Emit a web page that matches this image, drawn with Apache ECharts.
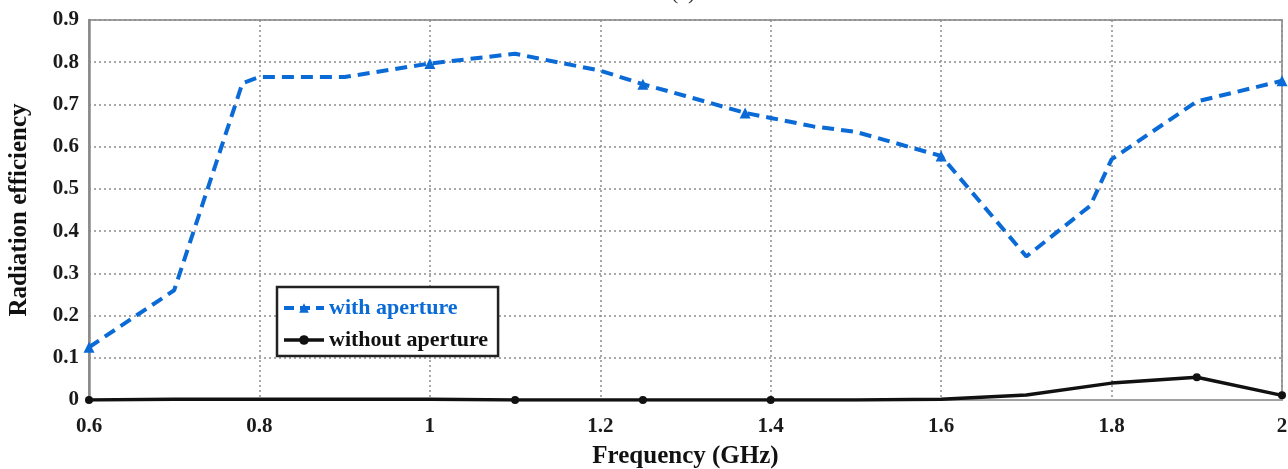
<!DOCTYPE html>
<html>
<head>
<meta charset="utf-8">
<script src="https://cdn.jsdelivr.net/npm/echarts@6/dist/echarts.min.js"></script>
<style>
  html, body { margin: 0; padding: 0; background: #fff; }
  #chart { width: 1288px; height: 469px; }
</style>
</head>
<body>
<div id="chart"></div>
<script>
// Frequency sweep (GHz) and measured radiation efficiency
const freqWith = [0.6, 0.7, 0.78, 0.8, 0.9, 1.0, 1.1, 1.2, 1.25, 1.3, 1.37, 1.4, 1.45, 1.5, 1.6, 1.7, 1.775, 1.8, 1.9, 2.0];
const effWith  = [0.125, 0.26, 0.75, 0.765, 0.765, 0.797, 0.82, 0.78, 0.748, 0.72, 0.68, 0.668, 0.648, 0.635, 0.578, 0.34, 0.46, 0.57, 0.707, 0.756];
const markWith = [0.6, 1.0, 1.25, 1.37, 1.6, 2.0];

const freqWithout = [0.6, 0.7, 0.8, 0.9, 1.0, 1.1, 1.25, 1.4, 1.5, 1.6, 1.7, 1.8, 1.9, 2.0];
const effWithout  = [0.0, 0.002, 0.002, 0.002, 0.002, 0.0, 0.0, 0.0, 0.0, 0.002, 0.012, 0.04, 0.054, 0.011];
const markWithout = [0.6, 1.1, 1.25, 1.4, 1.9, 2.0];

const yTicks = [0, 0.1, 0.2, 0.3, 0.4, 0.5, 0.6, 0.7, 0.8, 0.9];

const serif = '"Liberation Serif", "DejaVu Serif", serif';
const blue = '#0a6ad6';

function pairs(xs, ys, marked) {
  return xs.map((x, i) => marked.includes(x)
    ? { value: [x, ys[i]] }
    : { value: [x, ys[i]], symbol: 'none' });
}

const chart = echarts.init(document.getElementById('chart'), null, { renderer: 'canvas' });
chart.setOption({
  animation: false,
  backgroundColor: '#fff',
  title: {
    text: '(a)',
    left: 666,
    top: -23,
    textStyle: { fontFamily: serif, fontSize: 22, fontWeight: 'normal', color: '#333' }
  },
  grid: {
    left: 89, right: 6, top: 20, bottom: 69,
    containLabel: false,
    outerBoundsMode: 'none',
    show: true, borderColor: '#a0a0a0', borderWidth: 2, backgroundColor: '#fff'
  },
  legend: {
    left: 277, top: 287,
    orient: 'vertical',
    itemGap: 10,
    itemWidth: 40, itemHeight: 12,
    itemTextGap: 7,
    padding: [10, 10, 5, 5],
    borderColor: '#222', borderWidth: 2.5,
    backgroundColor: '#fff',
    textStyle: { fontFamily: serif, fontSize: 22, fontWeight: 'bold' },
    data: [
      { name: 'with aperture', textStyle: { color: blue }, lineStyle: { width: 4, type: [10, 6] } },
      { name: 'without aperture', textStyle: { color: '#111' }, lineStyle: { width: 3.5 } }
    ]
  },
  xAxis: {
    type: 'value',
    min: 0.6, max: 2.0, interval: 0.2,
    name: 'Frequency (GHz)',
    nameLocation: 'middle',
    nameGap: 44,
    nameTextStyle: { fontFamily: serif, fontSize: 25, fontWeight: 'bold', color: '#111' },
    axisLine: { show: true, lineStyle: { color: '#a0a0a0', width: 2 } },
    axisTick: { show: false },
    axisLabel: {
      margin: 16,
      fontFamily: serif, fontSize: 21, fontWeight: 'bold', color: '#1a1a1a',
      formatter: v => String(parseFloat(v.toFixed(1)))
    },
    splitLine: { show: true, lineStyle: { color: '#8c8c8c', type: [2, 3], width: 1.5 } }
  },
  yAxis: {
    type: 'value',
    min: yTicks[0], max: yTicks[yTicks.length - 1], interval: 0.1,
    name: 'Radiation efficiency',
    nameLocation: 'middle',
    nameGap: 57,
    nameTextStyle: { fontFamily: serif, fontSize: 25, fontWeight: 'bold', color: '#111' },
    axisLine: { show: true, lineStyle: { color: '#8a8a8a', width: 2.5 } },
    axisTick: { show: false },
    axisLabel: {
      margin: 10,
      fontFamily: serif, fontSize: 21, fontWeight: 'bold', color: '#1a1a1a',
      formatter: v => String(parseFloat(v.toFixed(1)))
    },
    splitLine: { show: true, lineStyle: { color: '#8c8c8c', type: [2, 3], width: 1.5 } }
  },
  series: [
    {
      name: 'with aperture',
      type: 'line',
      data: pairs(freqWith, effWith, markWith),
      symbol: 'triangle',
      symbolSize: 11,
      itemStyle: { color: blue },
      lineStyle: { color: blue, width: 4, type: [12, 7] },
      z: 3
    },
    {
      name: 'without aperture',
      type: 'line',
      data: pairs(freqWithout, effWithout, markWithout),
      symbol: 'circle',
      symbolSize: 8,
      itemStyle: { color: '#111' },
      lineStyle: { color: '#111', width: 3.5 },
      z: 4
    }
  ]
});
</script>
</body>
</html>
